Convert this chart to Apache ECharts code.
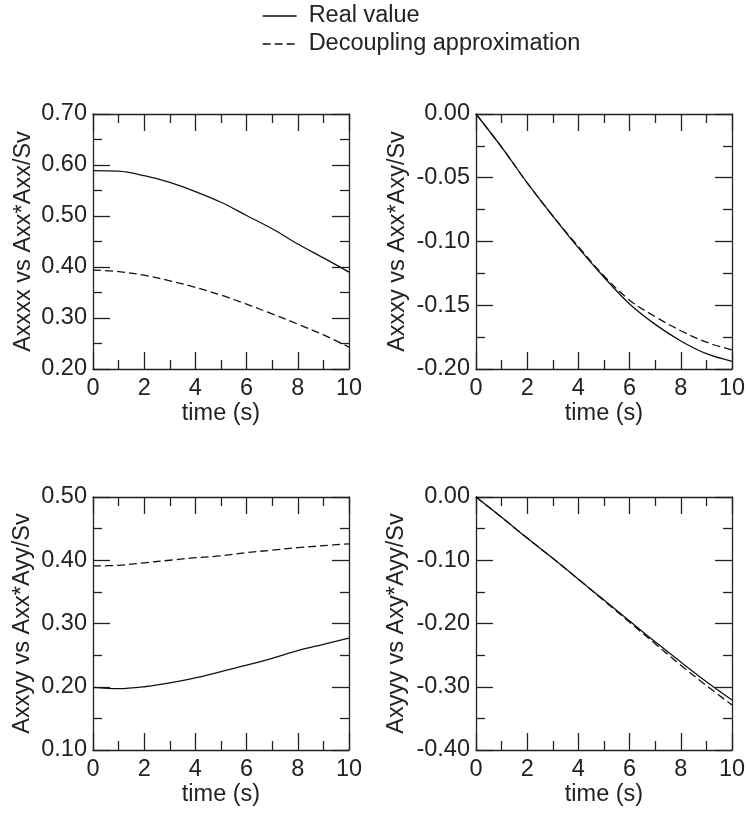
<!DOCTYPE html>
<html>
<head>
<meta charset="utf-8">
<script src="https://cdn.jsdelivr.net/npm/echarts@6/dist/echarts.min.js"></script>
<style>
html,body{margin:0;padding:0;background:#fff;}
#chart{width:748px;height:814px;}
</style>
</head>
<body>
<div id="chart"></div>
<script>
// ---- data ----
const time = [0, 1, 2, 3, 4, 5, 6, 7, 8, 9, 10];
const seriesNames = ['Real value', 'Decoupling approximation'];
const xTicks = [0, 2, 4, 6, 8, 10];

const axxxxReal   = [0.589, 0.588, 0.579, 0.566, 0.548, 0.527, 0.501, 0.475, 0.445, 0.418, 0.390];
const axxxxDecoup = [0.394, 0.391, 0.384, 0.373, 0.360, 0.345, 0.327, 0.308, 0.288, 0.267, 0.243];

const axxxyReal   = [0.000, -0.026, -0.054, -0.080, -0.105, -0.128, -0.149, -0.165, -0.178, -0.188, -0.194];
const axxxyDecoup = [0.000, -0.026, -0.054, -0.080, -0.104, -0.127, -0.146, -0.159, -0.170, -0.179, -0.185];

const axxyyReal   = [0.199, 0.197, 0.200, 0.206, 0.214, 0.224, 0.234, 0.245, 0.257, 0.267, 0.277];
const axxyyDecoup = [0.391, 0.392, 0.396, 0.400, 0.404, 0.407, 0.412, 0.416, 0.420, 0.423, 0.426];

const axyyyReal   = [0.000, -0.032, -0.065, -0.097, -0.130, -0.163, -0.196, -0.229, -0.261, -0.292, -0.321];
const axyyyDecoup = [0.000, -0.032, -0.065, -0.097, -0.130, -0.164, -0.198, -0.232, -0.266, -0.298, -0.329];

const yNames = ['Axxxx vs Axx*Axx/Sv', 'Axxxy vs Axx*Axy/Sv', 'Axxyy vs Axx*Ayy/Sv', 'Axyyy vs Axy*Ayy/Sv'];
const yRanges = [[0.2, 0.7, 0.1], [-0.2, 0, 0.05], [0.1, 0.5, 0.1], [-0.4, 0, 0.1]];
const xName = 'time (s)';
const panels = [[axxxxReal, axxxxDecoup], [axxxyReal, axxxyDecoup], [axxyyReal, axxyyDecoup], [axyyyReal, axyyyDecoup]];

// ---- layout / style ----
const FONT = "'Liberation Sans', Arial, Helvetica, sans-serif";
const INK = '#222';
const FS = 23.5;
const grids = [
  {left: 93, top: 114, width: 256, height: 255},
  {left: 476, top: 114, width: 256, height: 255},
  {left: 93, top: 497, width: 256, height: 253},
  {left: 476, top: 497, width: 256, height: 253}
];
const yNameGaps = [57, 66, 58, 67];

const lineAx = {show: true, onZero: false, lineStyle: {color: INK, width: 1.3}};
const majorTick = {show: true, inside: true, length: 17, lineStyle: {color: INK, width: 1.3}};
const minorTick = {show: true, splitNumber: 2, length: 9, lineStyle: {color: INK, width: 1.3}};

const xAxes = [], yAxes = [], series = [];
grids.forEach((g, i) => {
  const xb = {
    gridIndex: i, type: 'value', position: 'bottom', min: 0, max: 10, interval: 2,
    name: xName, nameLocation: 'middle', nameGap: 27,
    nameTextStyle: {fontFamily: FONT, fontSize: FS, color: INK},
    axisLine: lineAx, axisTick: majorTick, minorTick: minorTick,
    splitLine: {show: false},
    axisLabel: {fontFamily: FONT, fontSize: FS, color: INK, margin: 8}
  };
  const xt = {
    gridIndex: i, type: 'value', position: 'top', min: 0, max: 10, interval: 2,
    axisLine: lineAx, axisTick: majorTick, minorTick: minorTick,
    splitLine: {show: false}, axisLabel: {show: false}
  };
  const r = yRanges[i];
  const yl = {
    gridIndex: i, type: 'value', position: 'left', min: r[0], max: r[1], interval: r[2],
    name: yNames[i], nameLocation: 'middle', nameGap: yNameGaps[i],
    nameTextStyle: {fontFamily: FONT, fontSize: FS, color: INK},
    axisLine: lineAx, axisTick: majorTick, minorTick: minorTick,
    splitLine: {show: false},
    axisLabel: {fontFamily: FONT, fontSize: FS, color: INK, margin: 6,
      formatter: v => (Math.abs(v) < 1e-9 ? 0 : v).toFixed(2)}
  };
  const yr = {
    gridIndex: i, type: 'value', position: 'right', min: r[0], max: r[1], interval: r[2],
    axisLine: lineAx, axisTick: majorTick, minorTick: minorTick,
    splitLine: {show: false}, axisLabel: {show: false}
  };
  xAxes.push(xb, xt);
  yAxes.push(yl, yr);
  panels[i].forEach((vals, k) => {
    series.push({
      name: seriesNames[k],
      type: 'line',
      xAxisIndex: 2 * i, yAxisIndex: 2 * i,
      data: time.map((t, j) => [t, vals[j]]),
      smooth: 0.35,
      symbol: 'none',
      silent: true,
      animation: false,
      itemStyle: {color: '#111'},
      lineStyle: {color: '#111', width: 1.3, type: k === 0 ? 'solid' : [8, 4]}
    });
  });
});

const chart = echarts.init(document.getElementById('chart'), null, {renderer: 'canvas'});
chart.setOption({
  backgroundColor: '#fff',
  animation: false,
  grid: grids.map(g => Object.assign({outerBoundsMode: 'none', containLabel: false}, g)),
  legend: {
    data: seriesNames,
    orient: 'vertical', left: 257, top: -1,
    itemWidth: 34, itemHeight: 14, itemGap: 4,
    selectedMode: false,
    itemStyle: {opacity: 0},
    lineStyle: {width: 1.3},
    textStyle: {fontFamily: FONT, fontSize: FS, color: INK, lineHeight: 24, padding: [0, 0, 0, 7]}
  },
  xAxis: xAxes,
  yAxis: yAxes,
  series: series
});
</script>
</body>
</html>
